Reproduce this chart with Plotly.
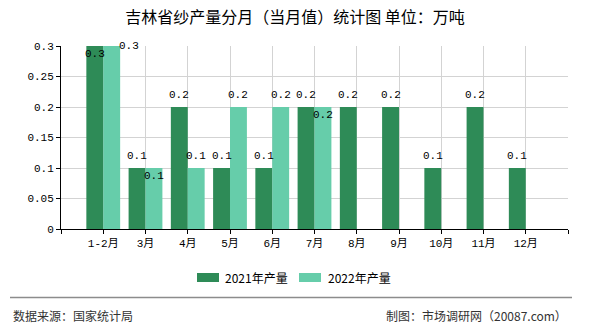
import plotly.graph_objects as go

# Monthly yarn output in Jilin (10k tonnes)
months = ["1-2月", "3月", "4月", "5月", "6月", "7月", "8月", "9月", "10月", "11月", "12月"]
out_2021 = [0.3, 0.1, 0.2, 0.1, 0.1, 0.2, 0.2, 0.2, 0.1, 0.2, 0.1]
out_2022 = [0.3, 0.1, 0.1, 0.2, 0.2, 0.2]
series_names = ["2021年产量", "2022年产量"]
y_ticks = [0, 0.05, 0.1, 0.15, 0.2, 0.25, 0.3]

colors = ["#2e8b57", "#66cdaa"]
CJK = "Noto Sans CJK SC"
MONO = "Liberation Mono, Noto Sans CJK SC"

xs = list(range(len(months)))

fig = go.Figure()
for vals, name, col in zip([out_2021, out_2022], series_names, colors):
    fig.add_trace(go.Bar(x=xs[:len(vals)], y=vals, name=name, marker_color=col,
                         marker_line_width=0, showlegend=False))

# value labels: (dx px, dy px) per label, default above the bar
def label_offsets(series_idx, i):
    if series_idx == 0 and i == 0:
        return 0, -8
    if series_idx == 1 and i == 0:
        return 17, 0
    if series_idx == 1 and i in (1, 5):
        return 0, -8
    return 0, 12

for s, vals in enumerate([out_2021, out_2022]):
    off = -0.2 if s == 0 else 0.2
    for i, v in enumerate(vals):
        dx, dy = label_offsets(s, i)
        fig.add_annotation(x=xs[i] + off, y=v, text=f"{v:g}",
                           showarrow=False, xanchor="center", yanchor="middle",
                           xshift=dx, yshift=dy,
                           font=dict(family=MONO, size=11, color="#000"))

# custom legend
leg_items = [(197, 223), (299, 326)]
for (mx, tx), name, col in zip(leg_items, series_names, colors):
    fig.add_shape(type="rect", xref="paper", yref="paper",
                  x0=(mx - 61) / 507, x1=(mx + 22 - 61) / 507,
                  y0=(229 - 282) / 183, y1=(229 - 273) / 183,
                  fillcolor=col, line_width=0)
    fig.add_annotation(xref="paper", yref="paper", x=(tx - 61) / 507, y=(229 - 277.5) / 183,
                       text=name, showarrow=False, xanchor="left", yanchor="middle",
                       font=dict(family=CJK, size=12, color="#000"))

# footer rule and texts
fig.add_shape(type="line", xref="paper", yref="paper",
              x0=(10 - 61) / 507, x1=(572 - 61) / 507,
              y0=(229 - 297.5) / 183, y1=(229 - 297.5) / 183,
              line=dict(color="#8c8c8c", width=1.5))
fig.add_annotation(xref="paper", yref="paper", x=(11 - 61) / 507, y=(229 - 315) / 183,
                   text="数据来源：国家统计局", showarrow=False, xanchor="left", yanchor="middle",
                   font=dict(family=CJK, size=12, color="#333"))
fig.add_annotation(xref="paper", yref="paper", x=(569 - 61) / 507, y=(229 - 315) / 183,
                   text="制图：市场调研网（20087.com）", showarrow=False, xanchor="right",
                   yanchor="middle", font=dict(family=CJK, size=12, color="#333"))

fig.update_layout(
    width=590, height=330,
    margin=dict(l=61, r=22, t=46, b=101),
    paper_bgcolor="white", plot_bgcolor="white",
    barmode="group", bargap=0.2, bargroupgap=0,
    title=dict(text="吉林省纱产量分月（当月值）统计图\u00a0单位：万吨", x=0.5, xanchor="center",
               y=1 - 17 / 330, yanchor="middle",
               font=dict(family=CJK, size=16, color="#000")),
    showlegend=False,
)
fig.update_xaxes(
    range=[-1, len(months)], tickmode="array",
    tickvals=list(range(-1, len(months) + 1)),
    ticktext=[""] + months + [""],
    showgrid=True, gridcolor="#d3d3d3", gridwidth=1,
    showline=True, linecolor="#000", linewidth=1,
    ticks="outside", ticklen=4, tickcolor="#000",
    tickfont=dict(family=MONO, size=11, color="#000"),
    zeroline=False,
)
fig.update_yaxes(
    range=[0, 0.3], tickmode="array", tickvals=y_ticks,
    ticktext=[f"{t:g}" for t in y_ticks],
    showgrid=True, gridcolor="#d3d3d3", gridwidth=1,
    showline=True, linecolor="#000", linewidth=1,
    ticks="outside", ticklen=4, tickcolor="#000",
    tickfont=dict(family=MONO, size=11, color="#000"),
    zeroline=False,
)

fig.write_html("out.html")
